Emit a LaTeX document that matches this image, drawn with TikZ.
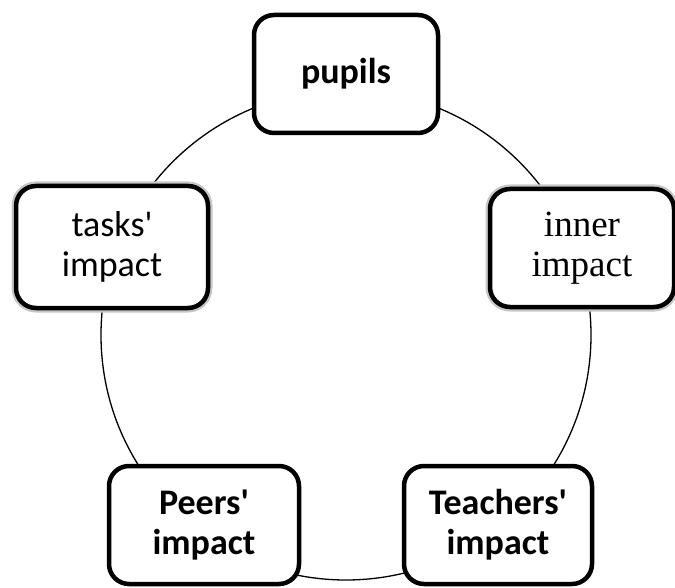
\documentclass[tikz,border=0pt]{standalone}
\usepackage{fontspec}
\setsansfont{Carlito}
\newfontfamily\timesfont{Liberation Serif}
\usepackage{tikz}
\usetikzlibrary{positioning}
\tikzset{
  impactbox/.style={draw, line width=4.5pt, fill=white, rounded corners=20pt,
    minimum width=184pt, minimum height=118pt, align=center,
    font=\sffamily\fontsize{36}{40}\selectfont},
  haloed/.style={preaction={draw=gray!45, line width=9pt}},
}
\begin{document}
\begin{tikzpicture}[x=1pt, y=-1pt]
\useasboundingbox (0,0) rectangle (675,588);
\node[circle, draw, line width=1.3pt, minimum size=490pt, inner sep=0pt] (ring) at (346,335) {};
\node[impactbox] (pupils) at (346,74) {\bfseries pupils};
\node[impactbox, haloed, minimum width=192pt, minimum height=122pt] (tasks) at (112,247) {tasks\textquotesingle\\impact};
\node[impactbox, haloed, font=\timesfont\fontsize{37}{40}\selectfont] (inner) at (582,248) {inner\\impact};
\node[impactbox, minimum width=190pt] (peers) at (204,525) {\bfseries Peers\textquotesingle\\\bfseries impact};
\node[impactbox, minimum width=188pt] (teachers) at (498,525) {\bfseries Teachers\textquotesingle\\\bfseries impact};
\end{tikzpicture}
\end{document}
